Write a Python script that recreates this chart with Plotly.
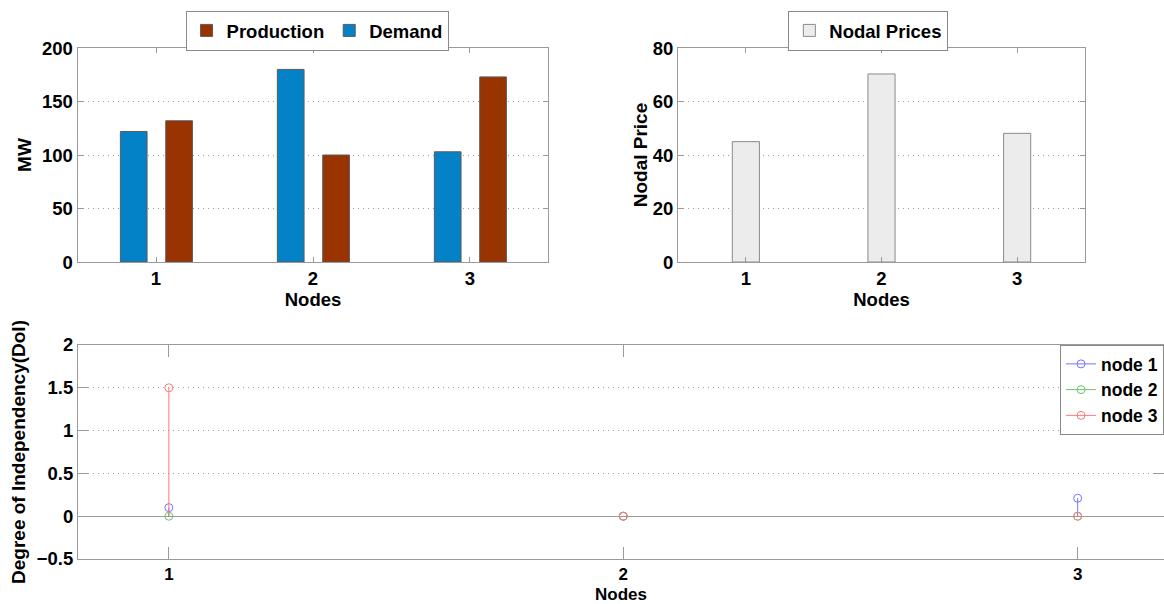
import plotly.graph_objects as go

# ---- data ----
nodes = [1, 2, 3]
demand_mw = [122, 180, 103]
production_mw = [132, 100, 173]
nodal_prices = [45, 70.3, 48.1]
doi_node1 = [0.1, 0.0, 0.21]
doi_node2 = [0.0, 0.0, 0.0]
doi_node3 = [1.5, 0.0, 0.0]
doi_series = [("node 1", doi_node1), ("node 2", doi_node2), ("node 3", doi_node3)]
node_tick_labels = ["1", "2", "3"]

# ---- styles ----
FONT = dict(family="Liberation Sans, Arial, sans-serif", size=18.5, color="#000000", weight="bold")
SMALL_FONT = dict(FONT, size=17)
TITLE_FONT = dict(FONT, size=19)
AXIS_GREY = "#9a9a9a"
GRID_GREY = "#9c9c9c"
BLUE_BAR = "#0482c8"
BROWN_BAR = "#993300"
PRICE_BAR = "#ececec"
STEM_COLORS = {"node 1": "#7474ff", "node 2": "#6cc46c", "node 3": "#ff7878"}

fig = go.Figure()

# Production / demand bars (top left)
fig.add_trace(go.Bar(
    x=nodes, y=demand_mw, name="Demand", xaxis="x", yaxis="y",
    width=0.17, offset=-0.227, marker=dict(color=BLUE_BAR, line=dict(color="#5a5a5a", width=1)),
    legend="legend", legendrank=2,
))
fig.add_trace(go.Bar(
    x=nodes, y=production_mw, name="Production", xaxis="x", yaxis="y",
    width=0.17, offset=0.062, marker=dict(color=BROWN_BAR, line=dict(color="#5a5a5a", width=1)),
    legend="legend", legendrank=1,
))

# Nodal prices (top right)
fig.add_trace(go.Bar(
    x=nodes, y=nodal_prices, name="Nodal Prices", xaxis="x2", yaxis="y2",
    width=0.2, offset=-0.1, marker=dict(color=PRICE_BAR, line=dict(color="#8a8a8a", width=1)),
    legend="legend2",
))

# Degree of independency stem plot (bottom)
for name, vals in doi_series:
    color = STEM_COLORS[name]
    sx, sy, mx, my = [], [], [], []
    for n, v in zip(nodes, vals):
        sx += [n, n, None]
        sy += [0, v, None]
        mx += [n, None]
        my += [v, None]
    fig.add_trace(go.Scatter(
        x=sx, y=sy, mode="lines", xaxis="x3", yaxis="y3",
        line=dict(color=color, width=1), showlegend=False, hoverinfo="skip",
        legendgroup=name,
    ))
    fig.add_trace(go.Scatter(
        x=mx, y=my, mode="lines+markers", name=name, xaxis="x3", yaxis="y3",
        line=dict(color=color, width=1), connectgaps=False,
        marker=dict(symbol="circle-open", size=8, color=color, line=dict(width=1)),
        legend="legend3", legendgroup=name,
    ))


def x_axis(domain, rng, anchor, ticklen, standoff, font=FONT):
    return dict(
        domain=domain, range=rng, anchor=anchor,
        tickvals=nodes, ticktext=node_tick_labels,
        showline=True, linecolor=AXIS_GREY, linewidth=1, mirror="ticks",
        ticks="inside", ticklen=ticklen, tickcolor=AXIS_GREY,
        showgrid=False, zeroline=False, tickfont=font,
        title=dict(text="Nodes", font=font, standoff=standoff),
    )


def y_axis(domain, rng, dtick, anchor, title, ticklen, standoff, zeroline=False):
    return dict(
        domain=domain, range=rng, dtick=dtick, anchor=anchor,
        showline=True, linecolor=AXIS_GREY, linewidth=1, mirror="ticks",
        ticks="inside", ticklen=ticklen, tickcolor=AXIS_GREY,
        showgrid=True, gridcolor=GRID_GREY, griddash="1px,4px", gridwidth=1,
        zeroline=zeroline, zerolinecolor=AXIS_GREY, zerolinewidth=1,
        tickfont=FONT,
        title=dict(text=title, font=TITLE_FONT, standoff=standoff),
    )


top_dom = [0.5662, 0.9205]
bot_dom = [0.0745, 0.4288]

fig.update_layout(
    width=1164, height=604,
    margin=dict(l=0, r=0, t=0, b=0, autoexpand=False),
    paper_bgcolor="white", plot_bgcolor="white",
    font=FONT,
    barmode="overlay",
    xaxis=x_axis([0.0666, 0.4712], [0.5, 3.5], "y", 5, 0),
    yaxis=y_axis(top_dom, [0, 200], 50, "x", "MW", 5, 5),
    xaxis2=x_axis([0.5825, 0.9321], [0.5, 3.5], "y2", 5, 0),
    yaxis2=y_axis(top_dom, [0, 80], 20, "x2", "Nodal Price", 5, 0),
    xaxis3=x_axis([0.067, 1.0], [0.8, 3.19], "y3", 12, 4, font=SMALL_FONT),
    yaxis3=y_axis(bot_dom, [-0.5, 2], 0.5, "x3", "Degree of Independency(DoI)", 10, 6, zeroline=True),
    legend=dict(
        orientation="h", x=0.2724, xanchor="center", y=0.982, yanchor="top",
        bgcolor="white", bordercolor="#8a8a8a", borderwidth=1, font=FONT,
        traceorder="normal",
    ),
    legend2=dict(
        orientation="h", x=0.746, xanchor="center", y=0.982, yanchor="top",
        bgcolor="white", bordercolor="#8a8a8a", borderwidth=1, font=FONT,
    ),
    legend3=dict(
        x=1.0, xanchor="right", y=0.4288, yanchor="top",
        bgcolor="white", bordercolor="#8a8a8a", borderwidth=1, font=dict(FONT, size=17.5),
        itemwidth=30, tracegroupgap=0,
    ),
    showlegend=True,
)

fig.write_html("out.html")
